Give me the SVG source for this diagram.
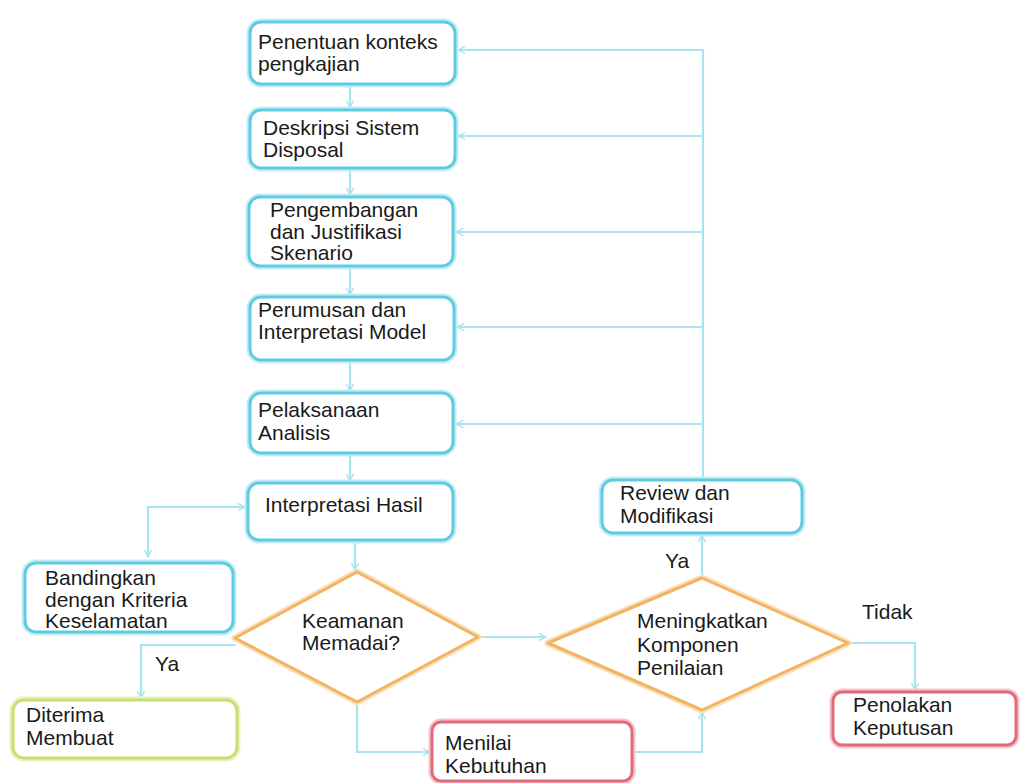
<svg xmlns="http://www.w3.org/2000/svg" width="1025" height="783" viewBox="0 0 1025 783">
<style>
.bg{fill:#ffffff}
.glow{fill:none;stroke-width:7;stroke-linejoin:round}
.box{fill:#ffffff;stroke-width:3;stroke-linejoin:round}
.blue .glow{stroke:#c4eef5}
.blue .box{stroke:#5fcbe0}
.green .glow{stroke:#e6f3c0}
.green .box{stroke:#c6e06e}
.red .glow{stroke:#f6c6cc}
.red .box{stroke:#e26a78}
.orange .glow{stroke:#fbe0bb}
.orange .box{stroke:#f2b462}
text{font-family:"Liberation Sans",Arial,sans-serif;font-size:21px;fill:#1a1a1a}
.conn{fill:none;stroke:#a9e5ef;stroke-width:2.2}
</style>
<defs>
<marker id="arr" viewBox="0 0 10 10" refX="9" refY="5" markerWidth="9" markerHeight="9" markerUnits="userSpaceOnUse" orient="auto-start-reverse">
<path d="M1,1 L9,5 L1,9" fill="none" stroke="#a9e5ef" stroke-width="1.6"/>
</marker>
</defs>
<rect class="bg" x="0" y="0" width="1025" height="783"/>

<g id="connectors">
<path class="conn" d="M350,84 V108" marker-end="url(#arr)"/>
<path class="conn" d="M350,168 V195" marker-end="url(#arr)"/>
<path class="conn" d="M350,266 V295" marker-end="url(#arr)"/>
<path class="conn" d="M350,360 V391" marker-end="url(#arr)"/>
<path class="conn" d="M350,453 V481" marker-end="url(#arr)"/>
<path class="conn" d="M703,480 V50 H458" marker-end="url(#arr)"/>
<path class="conn" d="M703,136 H458" marker-end="url(#arr)"/>
<path class="conn" d="M703,232 H456" marker-end="url(#arr)"/>
<path class="conn" d="M703,327 H457" marker-end="url(#arr)"/>
<path class="conn" d="M703,424 H456" marker-end="url(#arr)"/>
<path class="conn" d="M148,557 V507 H245" marker-start="url(#arr)" marker-end="url(#arr)"/>
<path class="conn" d="M355,540 V570" marker-end="url(#arr)"/>
<path class="conn" d="M236,645 H141 V698" marker-end="url(#arr)"/>
<path class="conn" d="M478,637 H546" marker-end="url(#arr)"/>
<path class="conn" d="M357,702 V752 H430" marker-end="url(#arr)"/>
<path class="conn" d="M632,752 H702 V712" marker-end="url(#arr)"/>
<path class="conn" d="M702,578 V535" marker-end="url(#arr)"/>
<path class="conn" d="M848,643 H915 V690" marker-end="url(#arr)"/>
</g>

<g id="n1" class="blue">
<rect class="glow" x="250" y="22" width="205" height="62" rx="11"/>
<rect class="box" x="250" y="22" width="205" height="62" rx="11"/>
<text x="258" y="49">Penentuan konteks</text>
<text x="258" y="71">pengkajian</text>
</g>
<g id="n2" class="blue">
<rect class="glow" x="250" y="110" width="205" height="58" rx="11"/>
<rect class="box" x="250" y="110" width="205" height="58" rx="11"/>
<text x="263" y="135">Deskripsi Sistem</text>
<text x="263" y="157">Disposal</text>
</g>
<g id="n3" class="blue">
<rect class="glow" x="249" y="197" width="204" height="69" rx="11"/>
<rect class="box" x="249" y="197" width="204" height="69" rx="11"/>
<text x="270" y="217">Pengembangan</text>
<text x="270" y="239">dan Justifikasi</text>
<text x="270" y="260">Skenario</text>
</g>
<g id="n4" class="blue">
<rect class="glow" x="250" y="297" width="204" height="63" rx="11"/>
<rect class="box" x="250" y="297" width="204" height="63" rx="11"/>
<text x="258" y="317">Perumusan dan</text>
<text x="258" y="339">Interpretasi Model</text>
</g>
<g id="n5" class="blue">
<rect class="glow" x="250" y="393" width="203" height="60" rx="11"/>
<rect class="box" x="250" y="393" width="203" height="60" rx="11"/>
<text x="258" y="417">Pelaksanaan</text>
<text x="258" y="440">Analisis</text>
</g>
<g id="n6" class="blue">
<rect class="glow" x="248" y="483" width="205" height="57" rx="11"/>
<rect class="box" x="248" y="483" width="205" height="57" rx="11"/>
<text x="265" y="512">Interpretasi Hasil</text>
</g>
<g id="n7" class="blue">
<rect class="glow" x="25" y="563" width="208" height="69" rx="11"/>
<rect class="box" x="25" y="563" width="208" height="69" rx="11"/>
<text x="45" y="585">Bandingkan</text>
<text x="45" y="607">dengan Kriteria</text>
<text x="45" y="628">Keselamatan</text>
</g>
<g id="n8" class="orange">
<polygon class="glow" points="357,572 478,637 357,702 235,638"/>
<polygon class="box" points="357,572 478,637 357,702 235,638"/>
<text x="302" y="628">Keamanan</text>
<text x="302" y="650">Memadai?</text>
</g>
<g id="n9" class="orange">
<polygon class="glow" points="702,578 848,643 702,710 548,643"/>
<polygon class="box" points="702,578 848,643 702,710 548,643"/>
<text x="637" y="628">Meningkatkan</text>
<text x="637" y="652">Komponen</text>
<text x="637" y="675">Penilaian</text>
</g>
<g id="n10" class="blue">
<rect class="glow" x="602" y="480" width="200" height="53" rx="11"/>
<rect class="box" x="602" y="480" width="200" height="53" rx="11"/>
<text x="620" y="500">Review dan</text>
<text x="620" y="523">Modifikasi</text>
</g>
<g id="n11" class="green">
<rect class="glow" x="13" y="700" width="224" height="58" rx="11"/>
<rect class="box" x="13" y="700" width="224" height="58" rx="11"/>
<text x="26" y="722">Diterima</text>
<text x="26" y="745">Membuat</text>
</g>
<g id="n12" class="red">
<rect class="glow" x="432" y="722" width="200" height="59" rx="9"/>
<rect class="box" x="432" y="722" width="200" height="59" rx="9"/>
<text x="445" y="750">Menilai</text>
<text x="445" y="773">Kebutuhan</text>
</g>
<g id="n13" class="red">
<rect class="glow" x="833" y="692" width="183" height="53" rx="9"/>
<rect class="box" x="833" y="692" width="183" height="53" rx="9"/>
<text x="853" y="712">Penolakan</text>
<text x="853" y="735">Keputusan</text>
</g>

<g id="labels">
<text x="665" y="568">Ya</text>
<text x="155" y="671">Ya</text>
<text x="862" y="619">Tidak</text>
</g>
</svg>
